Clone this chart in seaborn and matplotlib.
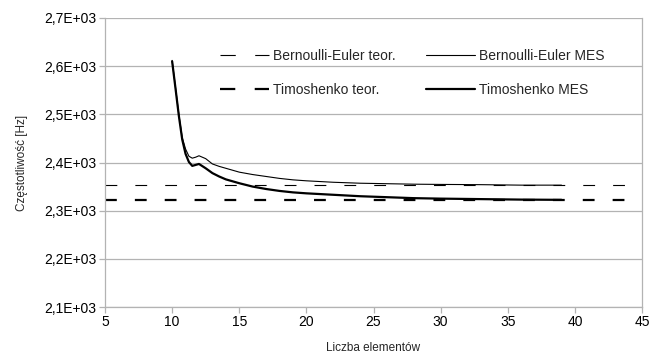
import matplotlib
matplotlib.use("Agg")
import matplotlib.pyplot as plt
import seaborn as sns
import pandas as pd
from matplotlib.ticker import FuncFormatter
from matplotlib.lines import Line2D

# ---- data ----
elements = [10, 10.25, 10.5, 10.75, 11, 11.25, 11.5, 11.75, 12, 12.5, 13,
            13.5, 14, 15, 16, 17, 18, 19, 20, 22, 24, 26, 28, 30, 33, 36, 39]
bernoulli_mes = [2612, 2556, 2500, 2452, 2428, 2413, 2409, 2411, 2414, 2408,
                 2397, 2392, 2388, 2380, 2375, 2371, 2367, 2364, 2362, 2359,
                 2357, 2356, 2355, 2354.5, 2354, 2353, 2353]
timoshenko_mes = [2610, 2554, 2497, 2448, 2418, 2401, 2393, 2395, 2397, 2388,
                  2378, 2371, 2365, 2357, 2350, 2345, 2341, 2338, 2336, 2333,
                  2330, 2328, 2326, 2325, 2324, 2323, 2322.5]
bernoulli_teor = 2353
timoshenko_teor = 2322
y_ticks = [2100, 2200, 2300, 2400, 2500, 2600, 2700]
x_ticks = [5, 10, 15, 20, 25, 30, 35, 40, 45]

sns.set_theme(style="white")
plt.rcParams['font.family'] = ['Liberation Sans', 'DejaVu Sans']
plt.rcParams['lines.scale_dashes'] = False

fig = plt.figure(figsize=(6.51, 3.57), dpi=100)
ax = fig.add_axes([0.1613, 0.140, 0.8249, 0.8096])

df = pd.DataFrame({"x": elements, "B": bernoulli_mes, "T": timoshenko_mes})

grid_c = "#b3b3b3"
for yv in y_ticks:
    ax.axhline(yv, color=grid_c, lw=0.9, zorder=0)

dash = (0, (8.5, 13))
ax.axhline(bernoulli_teor, color="black", lw=0.8, ls=dash, zorder=2)
ax.axhline(timoshenko_teor, color="black", lw=1.6, ls=dash, zorder=2)
sns.lineplot(data=df, x="x", y="B", ax=ax, color="black", lw=0.8, zorder=3)
sns.lineplot(data=df, x="x", y="T", ax=ax, color="black", lw=1.6, zorder=3)

ax.set_xlim(5, 45)
ax.set_ylim(2100, 2700)
ax.set_xticks(x_ticks)
ax.set_yticks(y_ticks)
ax.yaxis.set_major_formatter(FuncFormatter(
    lambda v, p: (f"{v/1000:.1f}".replace('.', ',') + "E+03")))
ax.tick_params(axis='both', which='major', direction='out', length=4,
               width=0.9, color=grid_c, labelsize=10, pad=2, labelcolor="black")
ax.tick_params(left=True, bottom=True)

for s in ["left", "bottom", "right"]:
    ax.spines[s].set_color(grid_c)
    ax.spines[s].set_linewidth(0.9)
ax.spines["top"].set_visible(False)

ax.set_xlabel("Liczba elementów", fontsize=8.5, labelpad=9)
ax.set_ylabel("Częstotliwość [Hz]", fontsize=8.5, labelpad=12)

handles = [
    Line2D([], [], color="black", lw=0.8, ls=(0, (11, 14))),
    Line2D([], [], color="black", lw=1.6, ls=(0, (11, 14))),
    Line2D([], [], color="black", lw=0.8),
    Line2D([], [], color="black", lw=1.6),
]
labels = ["Bernoulli-Euler teor.", "Timoshenko teor.",
          "Bernoulli-Euler MES", "Timoshenko MES"]
ax.legend(handles, labels, ncol=2, frameon=False, fontsize=10,
          loc="upper left", bbox_to_anchor=(0.215, 0.893),
          handlelength=3.5, handletextpad=0.3, columnspacing=2.2,
          labelspacing=1.45, borderpad=0, borderaxespad=0)

fig.savefig("out.png", dpi=100)
